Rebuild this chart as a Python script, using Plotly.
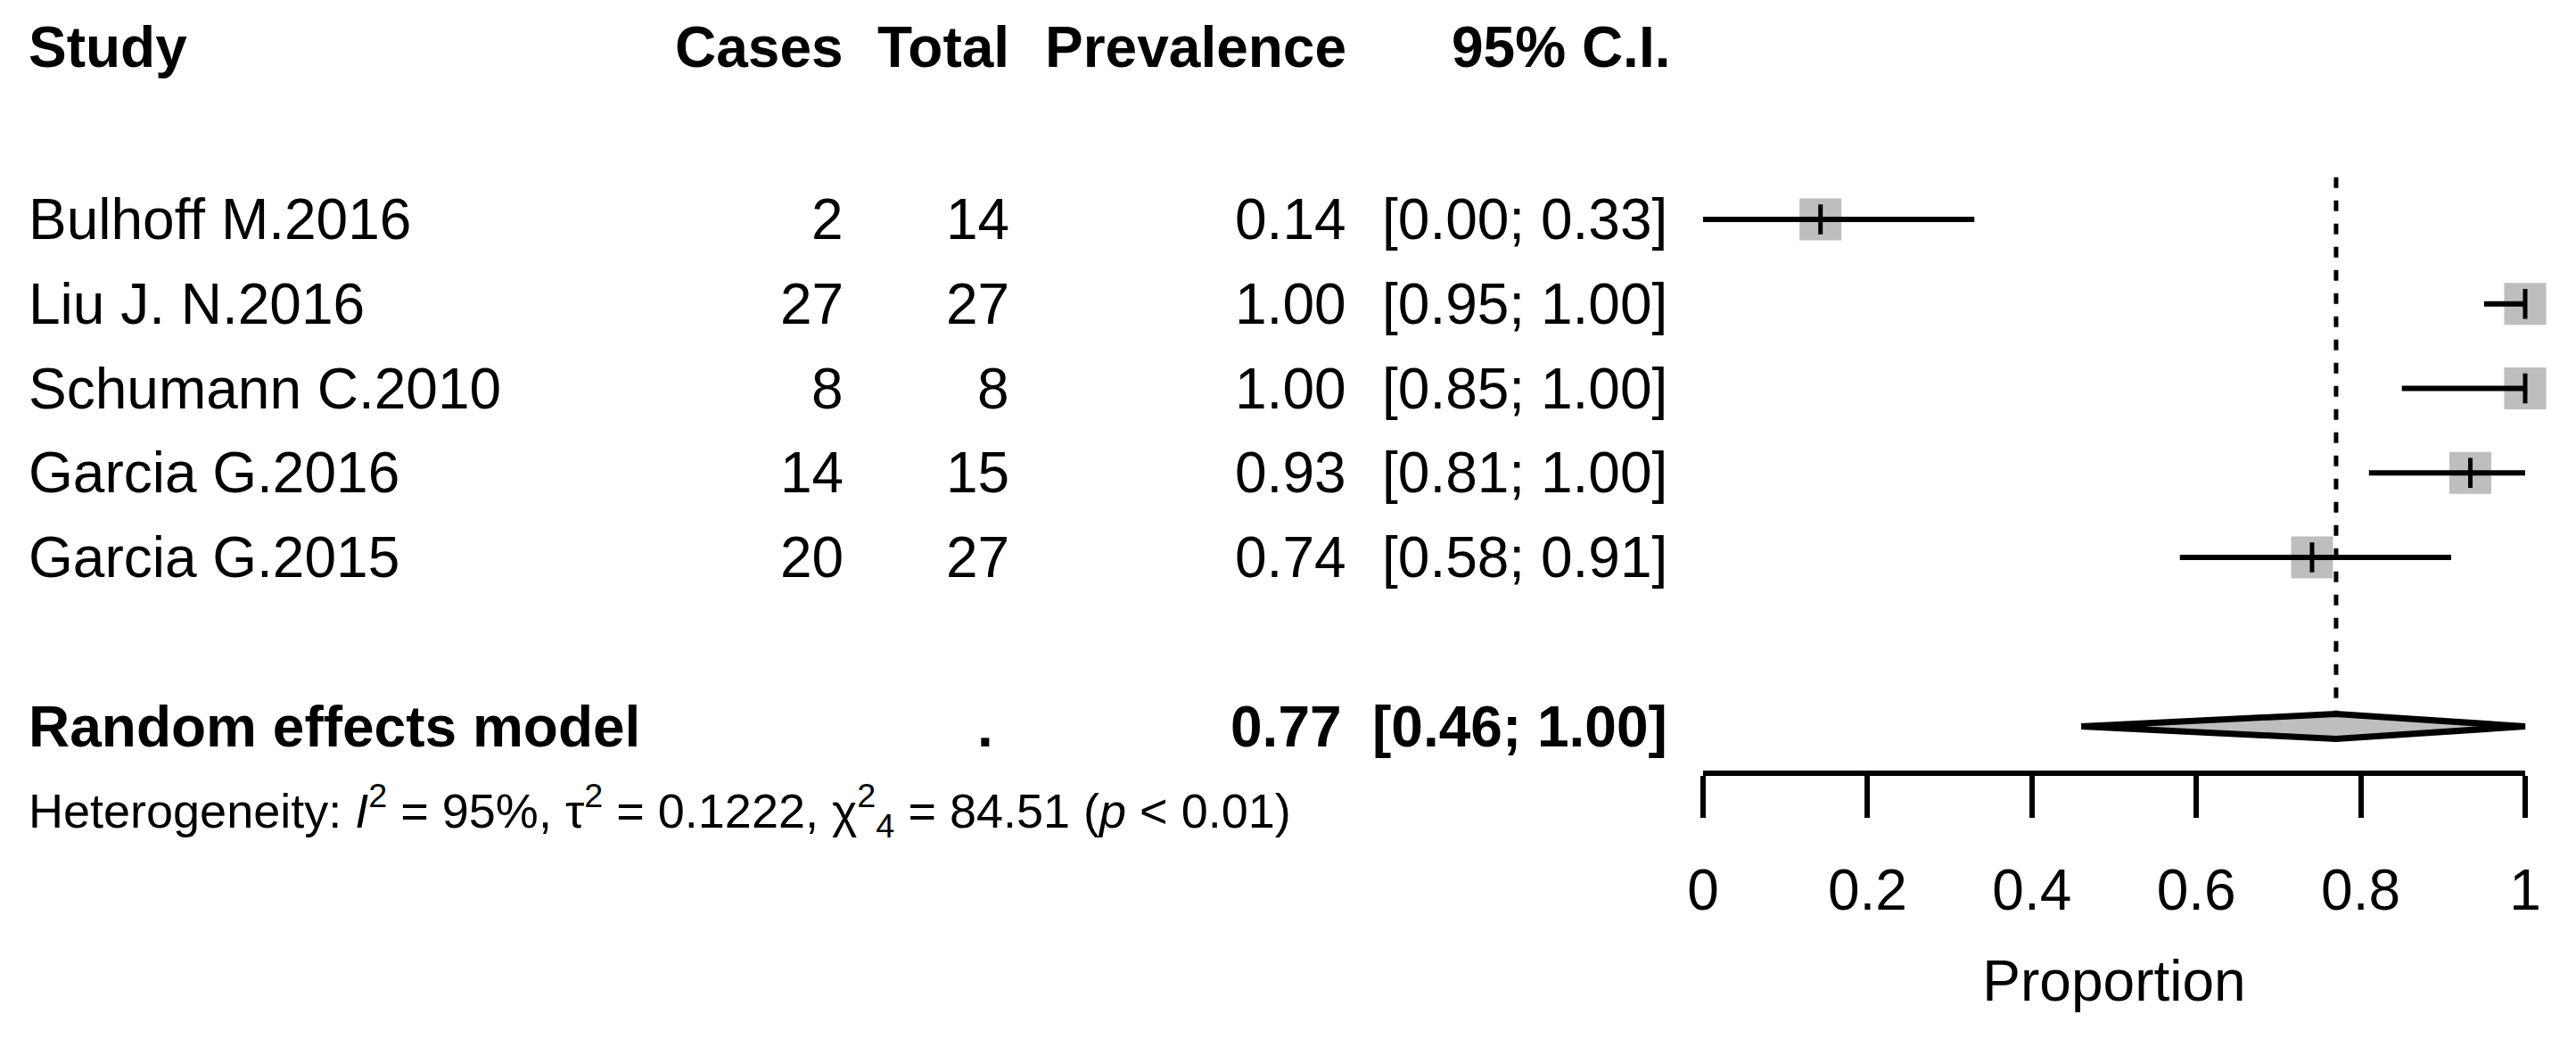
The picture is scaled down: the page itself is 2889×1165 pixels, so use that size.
import plotly.graph_objects as go

# ---------------- data ----------------
studies = ["Bulhoff M.2016", "Liu J. N.2016", "Schumann C.2010", "Garcia G.2016", "Garcia G.2015"]
cases = [2, 27, 8, 14, 20]
totals = [14, 27, 8, 15, 27]
ci_lo = [0.00, 0.95, 0.85, 0.81, 0.58]
ci_hi = [0.33, 1.00, 1.00, 1.00, 0.91]

re_label = "Random effects model"
re_est = 0.77
re_lo = 0.46
re_hi = 1.00

het_I2 = "95%"
het_tau2 = "0.1222"
het_chi2 = "84.51"
het_df = "4"
het_p = "0.01"

tick_vals = [0, 0.2, 0.4, 0.6, 0.8, 1]
tick_text = ["0", "0.2", "0.4", "0.6", "0.8", "1"]
headers = ["Study", "Cases", "Total", "Prevalence", "95% C.I."]
x_title = "Proportion"

# ---------------- layout helpers ----------------
W, H = 2889, 1165
ROW0, ROWH = 56.5, 94.75          # pixel centre of row 0 and row height
X0, X1 = 1910, 2832               # pixel of proportion 0 and 1
PAD = 0.05
FONT = "Liberation Sans, Arial, Helvetica, sans-serif"
FS = 64
GREY = "#BEBEBE"

def px(x):
    return x / W

def py(y):
    return 1 - y / H

def row_px(r):
    return ROW0 + ROWH * r

study_rows = [2 + i for i in range(len(studies))]
re_row = study_rows[-1] + 2
het_row = re_row + 1

prev = [c / t for c, t in zip(cases, totals)]

fig = go.Figure()

# squares
fig.add_trace(go.Scatter(
    x=prev, y=study_rows, mode="markers", cliponaxis=False,
    marker=dict(symbol="square", size=47, color=GREY, line=dict(width=0)),
    hoverinfo="skip"))

# CI lines
xs, ys = [], []
for lo, hi, r in zip(ci_lo, ci_hi, study_rows):
    xs += [lo, hi, None]
    ys += [r, r, None]
fig.add_trace(go.Scatter(x=xs, y=ys, mode="lines", line=dict(color="black", width=6),
                         hoverinfo="skip"))

# point-estimate ticks
fig.add_trace(go.Scatter(
    x=prev, y=study_rows, mode="markers", cliponaxis=False,
    marker=dict(symbol="line-ns", size=24, line=dict(width=5, color="black")),
    hoverinfo="skip"))

# reference dashed line at pooled estimate
fig.add_trace(go.Scatter(
    x=[re_est, re_est], y=[study_rows[0] - 0.5, re_row], mode="lines",
    line=dict(color="black", width=5, dash="12px,14px"), hoverinfo="skip"))

# diamond
h = 14 / ROWH
fig.add_trace(go.Scatter(
    x=[re_lo, re_est, re_hi, re_est, re_lo],
    y=[re_row, re_row - h, re_row, re_row + h, re_row],
    mode="lines", fill="toself", fillcolor=GREY,
    line=dict(color="black", width=7), hoverinfo="skip"))

# dummy trace for the visible axis
fig.add_trace(go.Scatter(x=[0, 1], y=[0, 0], xaxis="x2", yaxis="y2", mode="markers",
                         marker=dict(opacity=0), hoverinfo="skip"))

# ---------------- text ----------------
ann = []

def text(t, x, r, anchor, bold=False, size=FS):
    ann.append(dict(
        text=f"<b>{t}</b>" if bold else t,
        x=px(x), y=py(row_px(r)), xref="paper", yref="paper",
        xanchor=anchor, yanchor="middle", showarrow=False,
        font=dict(family=FONT, size=size, color="black")))

COL_STUDY, COL_CASES, COL_TOTAL, COL_PREV, COL_CI = 30, 948, 1134, 1512, 1872

text(headers[0], COL_STUDY, -0.04, "left", True)
text(headers[1], COL_CASES, -0.04, "right", True)
text(headers[2], COL_TOTAL, -0.04, "right", True)
text(headers[3], COL_PREV, -0.04, "right", True)
text(headers[4], COL_CI + 3, -0.04, "right", True)

for s, c, t, p, lo, hi, r in zip(studies, cases, totals, prev, ci_lo, ci_hi, study_rows):
    text(s, COL_STUDY, r, "left")
    text(str(c), COL_CASES, r, "right")
    text(str(t), COL_TOTAL, r, "right")
    text(f"{p:.2f}", COL_PREV, r, "right")
    text(f"[{lo:.2f}; {hi:.2f}]", COL_CI, r, "right")

text(re_label, COL_STUDY, re_row, "left", True)
text(".", COL_TOTAL - 18, re_row, "right", True)
text(f"{re_est:.2f}", COL_PREV - 5, re_row, "right", True)
text(f"[{re_lo:.2f}; {re_hi:.2f}]", COL_CI, re_row, "right", True)

het = (f"Heterogeneity: <i>I</i><sup>2</sup> = {het_I2}, τ<sup>2</sup> = {het_tau2}, "
       f"χ<sup>2</sup><sub>{het_df}</sub> = {het_chi2} (<i>p</i> &lt; {het_p})")
text(het, COL_STUDY, het_row, "left", False, 54)

# ---------------- axes ----------------
span = X1 - X0
fig.update_layout(
    width=W, height=H, margin=dict(l=0, r=0, t=0, b=0, pad=0, autoexpand=False),
    paper_bgcolor="white", plot_bgcolor="rgba(0,0,0,0)", showlegend=False,
    xaxis=dict(domain=[px(X0 - PAD * span), px(X1 + PAD * span)], range=[-PAD, 1 + PAD],
               visible=False, fixedrange=True, automargin=False),
    yaxis=dict(domain=[0, 1], range=[(H - ROW0) / ROWH, -ROW0 / ROWH],
               visible=False, fixedrange=True, automargin=False),
    xaxis2=dict(domain=[px(X0), px(X1)], range=[0, 1], anchor="y2",
                showline=True, linecolor="black", linewidth=6,
                ticks="outside", ticklen=47, tickwidth=6, tickcolor="black",
                tickvals=tick_vals, ticktext=tick_text, ticklabelstandoff=26,
                tickfont=dict(family=FONT, size=FS, color="black"),
                showgrid=False, zeroline=False, automargin=False, fixedrange=True,
                title=dict(text=x_title, font=dict(family=FONT, size=FS, color="black"),
                           standoff=46)),
    yaxis2=dict(domain=[py(864), 1], visible=False, range=[0, 1], automargin=False,
                fixedrange=True),
    annotations=ann,
)

fig.write_html("out.html", config={"displayModeBar": False},
               post_script="document.body.style.margin='0';document.body.style.overflow='hidden';")
